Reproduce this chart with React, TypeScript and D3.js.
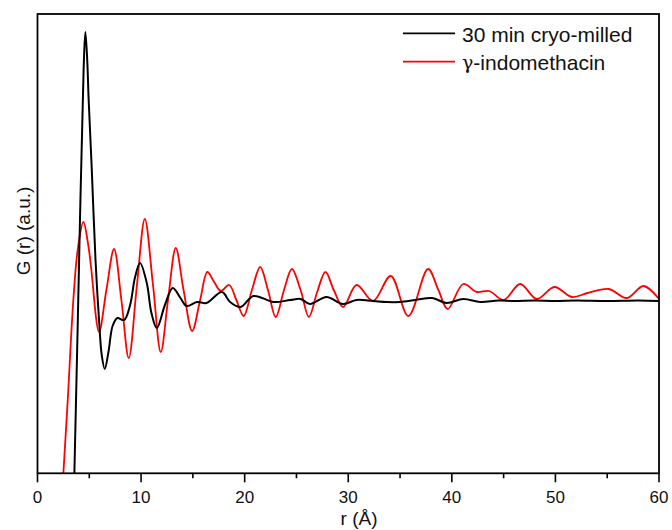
import React from "react";
import * as d3 from "d3";

// Data (r in Å, G in arbitrary units)
const milledR = [3.4, 3.56, 4.1, 4.45, 4.62, 4.8, 4.94, 5.23, 5.6, 5.94, 6.2, 6.49, 6.85, 7.25, 7.71, 8.36, 8.94, 9.42, 9.9, 10.55, 11.0, 11.52, 12.3, 13.06, 13.8, 14.4, 15.4, 16.3, 17.8, 18.6, 19.6, 20.85, 22.8, 24.4, 25.4, 26.3, 27.9, 29.5, 30.8, 32.4, 33.7, 35.0, 36.5, 38.1, 39.5, 41.1, 42.75, 44.5, 46.0, 48.0, 50.0, 52.0, 55.0, 58.0, 60.0];
const milledG = [-22, -17.3, 8, 23, 26.8, 24, 20, 13.3, 4, -2, -5.5, -6.9, -5.2, -2.6, -1.8, -2.0, -0.5, 2.3, 3.7, 1.7, -1.3, -2.8, -0.5, 1.2, 0.2, -0.6, -0.2, -0.3, 0.8, -0.2, -0.7, 0.4, -0.2, 0, 0.1, -0.4, 0.3, -0.4, 0, -0.1, -0.2, -0.2, 0, 0.2, -0.3, 0.1, -0.2, -0.05, -0.1, -0.05, -0.1, -0.05, -0.1, -0.05, -0.1];

const gammaR = [2.35, 2.5, 2.92, 3.46, 3.88, 4.43, 4.9, 5.17, 5.94, 6.65, 7.39, 8.1, 8.81, 9.6, 10.36, 11.15, 11.9, 12.6, 13.35, 14.1, 14.93, 15.7, 16.4, 17.0, 17.7, 18.5, 19.2, 19.9, 20.7, 21.5, 22.25, 23.0, 23.8, 24.56, 25.4, 26.2, 27.0, 27.8, 28.6, 29.5, 30.8, 32.4, 34.1, 35.8, 37.7, 38.7, 39.6, 41.1, 42.4, 43.6, 45.0, 46.6, 48.2, 49.9, 51.6, 53.1, 55.15, 56.9, 58.5, 60.0];
const gammaG = [-20, -17.3, -10, 0, 5, 7.8, 5.5, 3.3, -3.2, 1, 5.1, 0, -5.8, 1.5, 8.1, 1.5, -5.2, 0, 5.2, 1, -3.1, 0, 2.8, 1.9, 0.9, 1.5, 0, -1.6, 1, 3.3, 1, -1.7, 1, 3.1, 1, -1.7, 0.8, 2.8, 1, -0.7, 1.5, -0.1, 2.4, -1.6, 3.1, 1, -0.9, 1.6, 0.8, 0.9, 0, 1.6, 0.1, 1.3, 0.3, 0.7, 1.1, 0.2, 1.4, 0.1];

const xTicks = [0, 10, 20, 30, 40, 50, 60];
const xMinorTicks = [5, 15, 25, 35, 45, 55];
const seriesNames = ["30 min cryo-milled", "γ-indomethacin"];
const seriesColors = ["#000000", "#ff0000"];

const W = 672;
const H = 530;
const left = 37.5;
const right = 659;
const top = 14;
const bottom = 473.3;
const FONT = "'Liberation Sans', Arial, sans-serif";

function renderName(name: string) {
  if (name.startsWith("γ")) {
    return (
      <>
        <tspan fontFamily="'DejaVu Serif', serif" fontSize={19}>γ</tspan>
        <tspan>{name.slice(1)}</tspan>
      </>
    );
  }
  return name;
}

export default function App() {
  const x = d3.scaleLinear().domain([0, 60]).range([left, right]);
  const y = d3.scaleLinear().domain([-17.33, 28.6]).range([bottom, top]);
  const line = d3
    .line<[number, number]>()
    .x((d) => x(d[0]))
    .y((d) => y(d[1]))
    .curve(d3.curveCatmullRom.alpha(0.5));

  const milled: [number, number][] = milledR.map((r, i) => [r, milledG[i]]);
  const gamma: [number, number][] = gammaR.map((r, i) => [r, gammaG[i]]);

  return (
    <svg
      width={W}
      height={H}
      style={{ position: "absolute", left: 0, top: 0, background: "#fff" }}
      fontFamily={FONT}
    >
      <defs>
        <clipPath id="plotClip">
          <rect x={left} y={top} width={right - left} height={bottom - top} />
        </clipPath>
      </defs>
      <g clipPath="url(#plotClip)">
        <path d={line(gamma) || ""} fill="none" stroke={seriesColors[1]} strokeWidth={1.8} />
        <path d={line(milled) || ""} fill="none" stroke={seriesColors[0]} strokeWidth={2} />
      </g>
      <rect
        x={left}
        y={top}
        width={right - left}
        height={bottom - top}
        fill="none"
        stroke="#000"
        strokeWidth={1.8}
      />
      {xTicks.map((t) => (
        <g key={"M" + t}>
          <line x1={x(t)} x2={x(t)} y1={bottom} y2={bottom + 9} stroke="#000" strokeWidth={1.6} />
          <text x={x(t)} y={503} textAnchor="middle" fontSize={17} fill="#111">
            {t}
          </text>
        </g>
      ))}
      {xMinorTicks.map((t) => (
        <line key={"m" + t} x1={x(t)} x2={x(t)} y1={bottom} y2={bottom + 5} stroke="#000" strokeWidth={1.6} />
      ))}
      <text x={359} y={525} textAnchor="middle" fontSize={19} fill="#111">
        r (Å)
      </text>
      <text
        transform={`translate(30, ${231}) rotate(-90)`}
        textAnchor="middle"
        fontSize={19}
        fill="#111"
      >
        G (r) (a.u.)
      </text>
      {seriesNames.map((name, i) => (
        <g key={name}>
          <line
            x1={403}
            x2={455}
            y1={33.3 + i * 28.4}
            y2={33.3 + i * 28.4}
            stroke={seriesColors[i]}
            strokeWidth={1.8}
          />
          <text x={462} y={34 + i * 28.4} dominantBaseline="central" fontSize={21} fill="#111">
            {renderName(name)}
          </text>
        </g>
      ))}
    </svg>
  );
}
